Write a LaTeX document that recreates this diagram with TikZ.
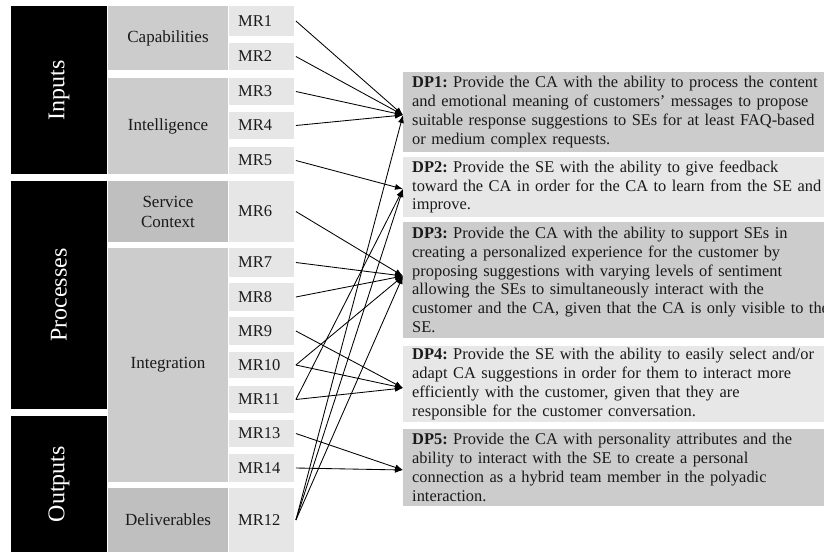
\documentclass[tikz,border=0pt]{standalone}
\usepackage{fontspec}
\setmainfont{Liberation Serif}
\usetikzlibrary{arrows.meta}
\frenchspacing
\definecolor{catgray}{HTML}{CCCCCC}
\definecolor{catdark}{HTML}{BFBFBF}
\definecolor{mrgray}{HTML}{E6E6E6}
\definecolor{dpdark}{HTML}{CCCCCC}
\definecolor{dplight}{HTML}{E7E7E7}
\definecolor{ink}{HTML}{1A1A1A}
\tikzset{
  grp/.style={fill=black, text=white, inner sep=0pt, minimum height=96pt,
    rotate=90, font=\fontsize{24}{26}\selectfont},
  cat/.style={fill=catgray, text=ink, inner sep=0pt, minimum width=120pt,
    align=center, font=\fontsize{17}{20}\selectfont},
  catd/.style={cat, fill=catdark},
  mr/.style={fill=mrgray, text=ink, anchor=west, text width=47pt, inner xsep=9pt,
    inner ysep=0pt, align=left, font=\fontsize{16.5}{19}\selectfont},
  dpbox/.style={anchor=west, text=ink, text width=440pt, inner xsep=9pt,
    inner ysep=0pt, align=left, font=\fontsize{16.4}{18.8}\selectfont},
  link/.style={-{Latex[length=8pt,width=6pt]}, line width=0.85pt, black},
}
\begin{document}
\begin{tikzpicture}[x=1pt,y=-1pt]
\useasboundingbox[fill=white] (0,0) rectangle (824,552);

% main groups
\node[grp, minimum width=168pt] (inputs) at (59,90) {Inputs};
\node[grp, minimum width=228pt] (processes) at (59,295) {Processes};
\node[grp, minimum width=136pt] (outputs) at (59,484) {Outputs};

% categories
\node[cat, minimum height=64pt] (capab) at (168,38) {Capabilities};
\node[cat, minimum height=96pt] (intel) at (168,126) {Intelligence};
\node[catd, minimum height=61pt] (servc) at (168,211.5) {Service\\Context};
\node[cat, minimum height=234pt] (integ) at (168,365) {Integration};
\node[catd, minimum height=64pt] (deliv) at (168,520) {Deliverables};

% requirements
\node[mr, minimum height=30pt] (mr1) at (229,21) {MR1};
\node[mr, minimum height=27pt] (mr2) at (229,56.5) {MR2};
\node[mr, minimum height=27pt] (mr3) at (229,91.5) {MR3};
\node[mr, minimum height=27pt] (mr4) at (229,125.5) {MR4};
\node[mr, minimum height=27pt] (mr5) at (229,160.5) {MR5};
\node[mr, minimum height=61pt] (mr6) at (229,211.5) {MR6};
\node[mr, minimum height=29pt] (mr7) at (229,262.5) {MR7};
\node[mr, minimum height=28pt] (mr8) at (229,297) {MR8};
\node[mr, minimum height=28pt] (mr9) at (229,331) {MR9};
\node[mr, minimum height=26pt] (mr10) at (229,365) {MR10};
\node[mr, minimum height=27pt] (mr11) at (229,399.5) {MR11};
\node[mr, minimum height=27pt] (mr13) at (229,433.5) {MR13};
\node[mr, minimum height=28pt] (mr14) at (229,468) {MR14};
\node[mr, minimum height=64pt] (mr12) at (229,520) {MR12};

% design principles
\node[dpbox, fill=dpdark, minimum height=80pt] (dp1) at (403,112) {%
\textbf{DP1:} Provide the CA with the ability to process the content\\
and emotional meaning of customers’ messages to propose\\
suitable response suggestions to SEs for at least FAQ-based\\
or medium complex requests.};
\node[dpbox, fill=dplight, minimum height=60pt] (dp2) at (403,187) {%
\textbf{DP2:} Provide the SE with the ability to give feedback\\
toward the CA in order for the CA to learn from the SE and\\
improve.};
\node[dpbox, fill=dpdark, minimum height=116pt] (dp3) at (403,280) {%
\textbf{DP3:} Provide the CA with the ability to support SEs in\\
creating a personalized experience for the customer by\\
proposing suggestions with varying levels of sentiment\\
allowing the SEs to simultaneously interact with the\\
customer and the CA, given that the CA is only visible to the\\
SE.};
\node[dpbox, fill=dplight, minimum height=76pt] (dp4) at (403,384) {%
\textbf{DP4:} Provide the SE with the ability to easily select and/or\\
adapt CA suggestions in order for them to interact more\\
efficiently with the customer, given that they are\\
responsible for the customer conversation.};
\node[dpbox, fill=dpdark, minimum height=77pt] (dp5) at (403,467.5) {%
\textbf{DP5:} Provide the CA with personality attributes and the\\
ability to interact with the SE to create a personal\\
connection as a hybrid team member in the polyadic\\
interaction.};

% arrow targets on the principle boxes
\coordinate (t1) at ([yshift=-3pt]dp1.west);
\coordinate (t2) at ([yshift=-2pt]dp2.west);
\coordinate (t3) at ([yshift=4pt]dp3.west);
\coordinate (t4) at ([yshift=-4pt]dp4.west);
\coordinate (t5) at ([yshift=-2.5pt]dp5.west);

% mapping of requirements to principles
\foreach \m/\t in {mr1/t1, mr2/t1, mr3/t1, mr4/t1, mr5/t2, mr6/t3, mr7/t3,
  mr8/t3, mr9/t4, mr10/t3, mr10/t4, mr11/t4, mr11/t2, mr12/t1, mr12/t2,
  mr12/t3, mr13/t5, mr14/t5}
  \draw[link] ([xshift=1.5pt]\m.east) -- (\t);
\end{tikzpicture}
\end{document}
